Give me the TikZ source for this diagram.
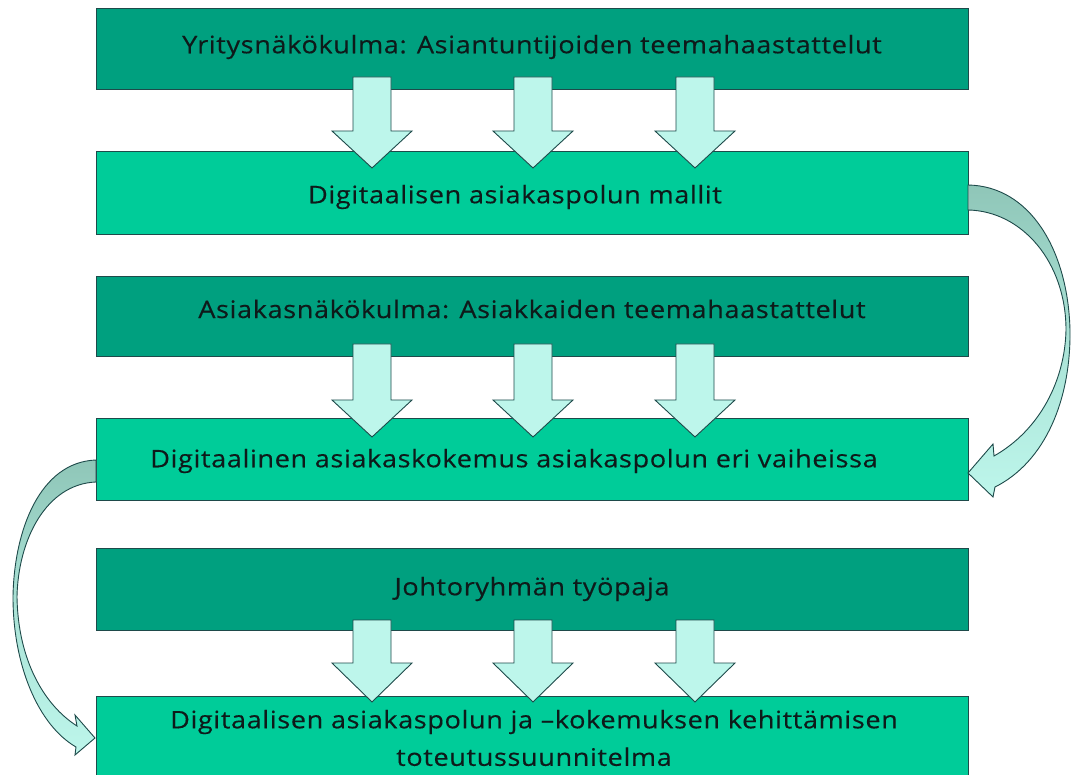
\documentclass[tikz,border=0pt]{standalone}
\usepackage{fontspec}
\setmainfont{Open Sans}[FakeStretch=1.12,LetterSpace=2.5,FakeBold=0.3]
\definecolor{darkbox}{HTML}{00A07F}
\definecolor{lightbox}{HTML}{00CC99}
\definecolor{edgecol}{HTML}{1E4A4A}
\definecolor{arrowfill}{HTML}{BDF6EB}
\definecolor{curvetop}{HTML}{8FC6B8}
\definecolor{textcol}{HTML}{0E1A1A}
\begin{document}
\begin{tikzpicture}[x=1pt,y=-1pt,
  darkstage/.style={draw=edgecol,line width=0.9pt,fill=darkbox,inner sep=0pt,anchor=north west},
  lightstage/.style={draw=edgecol,line width=0.9pt,fill=lightbox,inner sep=0pt,anchor=north west},
  label/.style={font=\fontsize{24.2}{37.5}\selectfont,text=textcol,align=center},
  blockarrow/.style={draw=edgecol,line width=0.9pt,fill=arrowfill,line join=miter},
  curvearrow/.style={draw=edgecol,line width=0.9pt,line join=miter,top color=curvetop,bottom color=arrowfill,middle color=curvetop!40!arrowfill}
]
\useasboundingbox (0,0) rectangle (1072,775);
\clip (0,0) rectangle (1072,775);
\fill[white] (0,0) rectangle (1072,775);

\newcommand\dnarrow[4]{%
  \draw[blockarrow] ({#1-19},#2) -- ({#1+19},#2) -- ({#1+19},#3) -- ({#1+40},#3)
    -- (#1,#4) -- ({#1-40},#3) -- ({#1-19},#3) -- cycle;}

% boxes
\node[darkstage,minimum width=872pt,minimum height=81pt] (b1) at (96,8) {};
\node[lightstage,minimum width=872pt,minimum height=83pt] (b2) at (96,151) {};
\node[darkstage,minimum width=872pt,minimum height=80pt] (b3) at (96,276) {};
\node[lightstage,minimum width=872pt,minimum height=82pt] (b4) at (96,418) {};
\node[darkstage,minimum width=872pt,minimum height=82pt] (b5) at (96,548) {};
\node[lightstage,minimum width=872pt,minimum height=100pt] (b6) at (96,696) {};

% labels
\node[label] (t1) at (532,47) {Yritysnäkökulma: Asiantuntijoiden teemahaastattelut};
\node[label] (t2) at (515,197) {Digitaalisen asiakaspolun mallit};
\node[label] (t3) at (532,309) {Asiakasnäkökulma: Asiakkaiden teemahaastattelut};
\node[label] (t4) at (514,461) {Digitaalinen asiakaskokemus asiakaspolun eri vaiheissa};
\node[label] (t5) at (532,589) {Johtoryhmän työpaja};
\node[label] (t6) at (534,738) {Digitaalisen asiakaspolun ja –kokemuksen kehittämisen\\toteutussuunnitelma};

% down arrows
\foreach \cx in {372,533,695} {
  \dnarrow{\cx}{77}{131}{168}
  \dnarrow{\cx}{344}{400}{437}
  \dnarrow{\cx}{620}{663}{702}
}

% right curved arrow (b2 -> b4)
\draw[curvearrow] (968,185) .. controls (1030,186) and (1068,250) .. (1070,330)
  .. controls (1071,400) and (1045,462) .. (995,487)
  -- (993,497) -- (968,473) -- (993,444) -- (994,456)
  .. controls (1040,430) and (1065,380) .. (1066,330)
  .. controls (1066,262) and (1022,211) .. (968,210) -- cycle;

% left curved arrow (b4 -> b6)
\draw[curvearrow] (96,460) .. controls (40,462) and (14,530) .. (13,597)
  .. controls (13,665) and (38,725) .. (76,747)
  -- (75,755) -- (95,738) -- (75,715) -- (77,726)
  .. controls (44,705) and (18,660) .. (17,597)
  .. controls (18,540) and (46,484) .. (96,482) -- cycle;
\end{tikzpicture}
\end{document}
